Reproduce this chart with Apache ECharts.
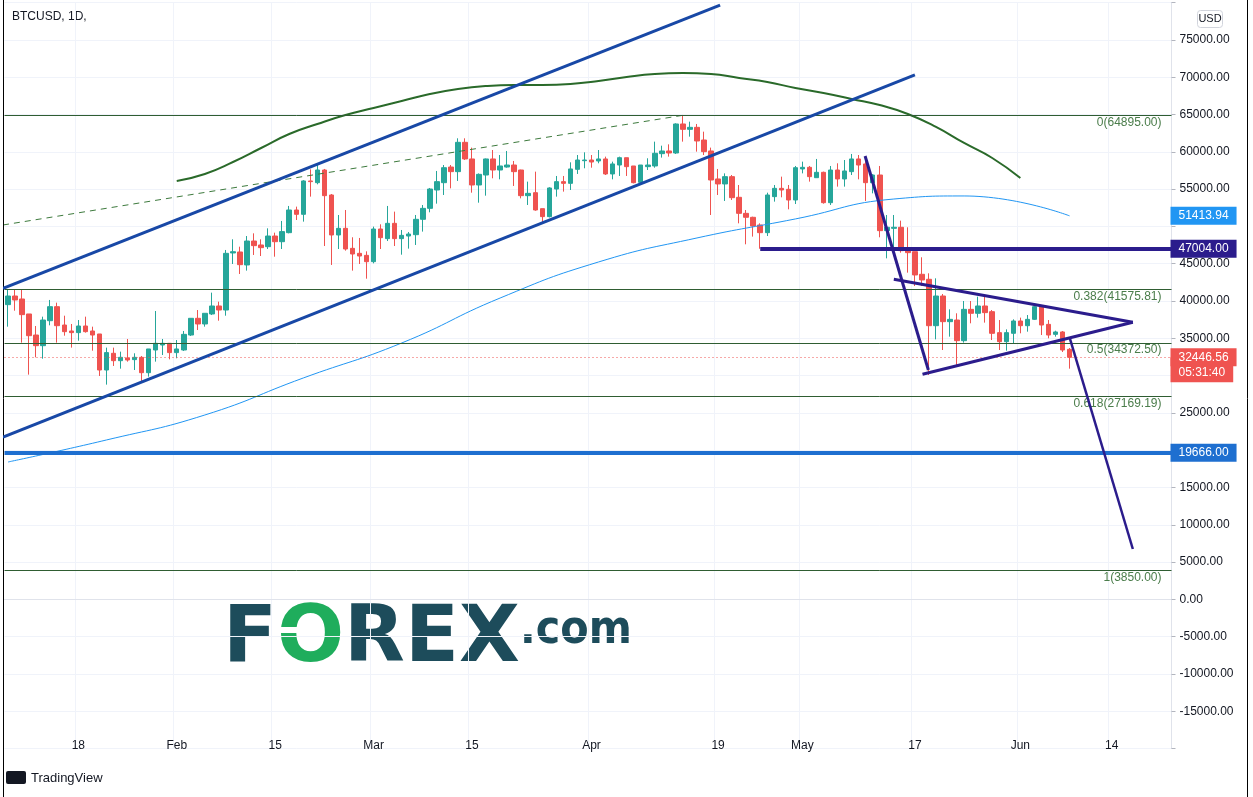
<!DOCTYPE html>
<html><head><meta charset="utf-8">
<script src="https://cdn.jsdelivr.net/npm/echarts@6/dist/echarts.min.js"></script>
<style>html,body{margin:0;padding:0;background:#fff;}#c{width:1253px;height:797px;}</style>
</head><body><div id="c"></div>
<script>
// ---------- data ----------
const startDate = '2021-01-08';
const endDate = '2021-06-22';
const open = [
 39510,40670,40270,38260,35440,34010,37360,39240,36780,35980,35760,36650,35980,35580,30750,32990,32000,32360,32140,32450,30390,33430,34100,34330,
 33080,33430,35440,37680,36920,38260,39330,38790,46440,46570,44830,48040,47510,47280,48710,47950,49160,52200,51620,56090,55860,57560,54210,48850,49740,47060,46390,46120,
 45270,49650,48360,50410,48360,48710,48890,50950,52420,54880,55860,57960,57340,61270,59040,55550,56890,59040,57560,57960,58230,57560,54120,54520,52380,51310,55010,56000,55770,57650,58810,
 58900,58770,59040,57030,58230,59210,58100,55910,58010,58100,59750,60110,59840,63730,63010,63280,61580,60110,56360,55690,56670,53900,51750,51220,50190,49160,53990,55100,54970,53540,
 57700,57920,56530,57250,53180,57560,56360,57340,59040,58370,55860,56890,49430,49740,49880,46840,46610,43580,42910,36690,40670,37230,37450,34680,38880,38350,39330,38570,35760,34550,35670,
 37320,36690,37540,39240,36870,35530,35850,33520];
const high = [
 41480,41480,41480,38260,36650,37900,40140,39780,38030,36920,37450,37900,36560,35580,33750,33750,33210,34910,32990,32630,33570,38660,34910,34330,
 34770,35980,37680,38790,38350,41120,39910,46840,48270,47280,48710,49070,48270,49740,49160,50730,52740,52650,56200,57650,58230,57700,54340,51530,52200,48540,48450,46660,
 49970,50280,52740,51980,49520,49250,51530,52870,55150,57430,58230,58230,61810,61810,60560,57100,59100,60240,59570,60110,58770,57600,56000,57340,52380,55250,56760,56760,58590,59570,59930,
 59570,60240,59350,58680,59350,59210,58100,58230,59130,61360,60820,61000,63820,64895,64040,63730,62700,60560,57700,57110,56890,55550,52200,51300,50410,54520,55550,56670,55550,58100,
 58680,58100,59040,57340,58100,58460,58900,59710,59570,59350,57000,58100,51530,51530,50770,49880,46610,45860,43710,43040,40940,38880,38350,40000,40000,40580,40580,38790,37450,36200,37540,
 37770,38120,39690,39470,37450,36020,35980,33700];
const low = [
 36560,38700,34420,30130,32450,32270,36740,34420,35350,33750,34680,35760,33340,29950,28790,31290,30930,31870,30750,29050,29860,31870,32760,32180,
 32320,33300,35310,36110,36560,38120,37360,38030,44960,43620,44070,46170,46030,46970,45940,46970,49070,50860,50640,53990,55640,47370,44830,46970,46750,44070,44960,42990,
 45050,46970,48040,47370,46210,47020,47510,49300,51890,53050,54210,55100,56090,58900,54520,53180,54120,56450,56310,57870,55420,53760,52870,52100,50500,51200,53990,54660,54880,57030,57790,
 57870,58460,56890,56310,56760,56760,55770,55770,57560,57870,59220,59350,59710,61360,62030,60020,59570,51530,54210,53410,53540,50410,47600,48630,47004,48710,53320,53900,52290,53000,
 57110,56000,56530,53050,52870,55330,55330,56890,56310,53410,54430,48540,45720,47060,46480,43800,42010,42010,30080,34860,33430,35220,31420,34420,37010,37770,37100,34770,33430,33340,34240,
 35670,35890,37450,35440,35000,35220,33160,30930];
const close = [
 40670,40140,38170,35350,34010,37450,39240,36690,35890,35760,36650,35890,35440,30750,33080,32000,32450,32090,32450,30390,33570,34330,34330,33080,
 33570,35530,37680,36920,38350,39330,38790,46390,46610,44870,48040,47420,47150,48710,47950,49300,52200,51620,56090,56000,57560,54120,48850,49740,46970,46300,46030,45270,
 49650,48490,50410,48360,48800,48980,50950,52420,55010,56000,57870,57340,61270,59040,55550,56980,59040,57560,58100,58230,57340,54120,54430,52200,51310,55150,56000,55770,57700,58900,58900,
 58630,59040,57030,58370,59210,58010,55860,58230,58230,59800,60110,59840,63730,63010,63280,61450,60020,56220,55690,56670,53850,51750,51220,50050,49160,54210,55100,54880,53540,57870,
 57920,56670,57250,53180,57560,56360,57430,59040,58230,55860,56890,49430,49880,49880,46750,46480,43490,42820,36690,40670,37230,37540,34680,38880,38350,39330,38440,35670,34550,35760,37320,
 36690,37540,39240,36780,35440,35850,33430,32446.56];

const xTickDates = ['2021-01-18','2021-02-01','2021-02-15','2021-03-01','2021-03-15','2021-04-01','2021-04-19','2021-05-01','2021-05-17','2021-06-01','2021-06-14'];
const xTickLabels = ['18','Feb','15','Mar','15','Apr','19','May','17','Jun','14'];
const yHiddenTicks = [80000, 50000, 30000, 20000, -20000];

// slow moving average (dark green)
const greenMaDates = ['2021-02-01','2021-02-05','2021-02-09','2021-02-13','2021-02-17','2021-02-21','2021-02-25','2021-03-01','2021-03-05','2021-03-09','2021-03-13','2021-03-17','2021-03-21','2021-03-25','2021-03-29','2021-04-02','2021-04-06','2021-04-10','2021-04-14','2021-04-18','2021-04-22','2021-04-26','2021-04-30','2021-05-04','2021-05-08','2021-05-12','2021-05-16','2021-05-20','2021-05-24','2021-05-28','2021-06-01'];
const greenMaValues = [56090,57030,58630,60510,62390,63730,64930,65870,66810,67750,68420,68820,68960,68960,69090,69490,70030,70430,70560,70430,69890,69360,68550,67880,67080,66270,65070,63330,61180,59170,56490];
// moving average (light blue)
const blueMaDates = ['2021-01-08','2021-01-22','2021-02-05','2021-02-19','2021-03-05','2021-03-19','2021-04-02','2021-04-16','2021-04-30','2021-05-14','2021-05-24','2021-06-08'];
const blueMaValues = [18420,21370,24720,29680,34370,40400,45230,48450,51000,53670,54080,51413.94];

// drawings
const upperChannel = [['2021-01-07 07:00',41680],['2021-04-19 07:00',79650]];
const lowerChannel = [['2021-01-07 07:00',21740],['2021-05-17 00:00',70300]];
const dashedTrend  = [['2021-01-07 07:00',50190],['2021-04-14 00:00',64895]];
const dropLine1    = [['2021-05-09 22:00',59440],['2021-05-18 22:00',30750]];
const triUpper     = [['2021-05-14 00:00',42910],['2021-06-17 00:00',37145]];
const triLower     = [['2021-05-18 02:00',30175],['2021-06-17 00:00',37145]];
const dropLine2    = [['2021-06-08 00:00',35135],['2021-06-17 00:00',6756]];
const resistStart  = '2021-04-25';
const resistLevel  = 47004;
const supportLevel = 19666;
const fibHigh = 64895, fibLow = 3850;
const fibRatios = [0, 0.382, 0.5, 0.618, 1];
const lastPrice = 32446.56;
const lastTimer = '05:31:40';
const blueMaLast = 51413.94;

// ---------- helpers ----------
const DAY = 86400000;
function ts(s){const p=s.split(' ');const d=p[0].split('-').map(Number);let h=0,mi=0;if(p[1]){const t=p[1].split(':').map(Number);h=t[0];mi=t[1];}return Date.UTC(d[0],d[1]-1,d[2],h,mi);}
const dates=[];for(let t=ts(startDate);t<=ts(endDate);t+=DAY){dates.push(new Date(t).toISOString().slice(0,10));}
const tMin = ts(startDate)-DAY/2, tMax = ts(endDate)+DAY/2;
const candleData = dates.map((d,i)=> i<open.length ? [open[i],close[i],low[i],high[i]] : '-');
const isTick = (idx,val)=> xTickDates.indexOf(val)>=0;

const NAVY='#2b1c8c', CH='#1848a6';
const CLEAR='rgba(0,0,0,0)';
function seg(pts,color,width,type,z){return {type:'line',xAxisIndex:1,yAxisIndex:0,data:pts.map(p=>[ts(p[0]),p[1]]),symbol:'none',silent:true,animation:false,z:z||5,lineStyle:{color:color,width:width,type:type||'solid'}};}

const fibLines = fibRatios.map(r=>{const v=+(fibHigh-(fibHigh-fibLow)*r).toFixed(2);return {yAxis:v,lineStyle:{color:'#2f5d32',width:1,type:'solid'},label:{show:true,position:'insideEndBottom',distance:[10,1],formatter:r+'('+v.toFixed(2)+')',color:'#4b7d4b',fontSize:12,fontFamily:'Liberation Sans'}};});
const boxLabel=(txt,bg,extra)=>Object.assign({show:true,position:'end',distance:-1,formatter:txt,color:'#fff',backgroundColor:bg,padding:[2,8,2,8],fontSize:12,lineHeight:14,fontFamily:'Liberation Sans'},extra||{});

const option = {
 animation:false,
 backgroundColor:'#ffffff',
 grid:{left:4.5,right:81.5,top:2.6,bottom:48.4,containLabel:false},
 xAxis:[
  {type:'category',data:dates,boundaryGap:true,offset:-10.6,
   axisLine:{show:true,lineStyle:{color:'#e0e3eb'}},axisTick:{show:false},
   axisLabel:{interval:isTick,margin:2,color:'#131722',fontSize:12,fontFamily:'Liberation Sans',formatter:v=>{const k=xTickDates.indexOf(v);return k>=0?xTickLabels[k]:'';}},
   splitLine:{show:true,interval:isTick,lineStyle:{color:'#f0f3fa',width:1}}},
  {type:'value',min:tMin,max:tMax,show:false}
 ],
 yAxis:[{type:'value',position:'right',min:-20000,max:80000,interval:5000,
   axisLine:{show:true,lineStyle:{color:'#e0e3eb'}},axisTick:{show:true,length:4,lineStyle:{color:'#b2b5be'}},
   axisLabel:{margin:8,color:'#131722',fontSize:12,fontFamily:'Liberation Sans',formatter:v=>yHiddenTicks.indexOf(v)>=0?'':v.toFixed(2)},
   splitLine:{show:true,lineStyle:{color:'#f0f3fa'}}}],
 series:[
  {type:'line',xAxisIndex:1,yAxisIndex:0,data:[],silent:true,z:1,
   markLine:{symbol:['none','none'],silent:true,animation:false,data:fibLines}},
  {type:'candlestick',xAxisIndex:0,yAxisIndex:0,data:candleData,barWidth:5,z:3,
   itemStyle:{color:'#26a69a',color0:'#ef5350',borderColor:'#26a69a',borderColor0:'#ef5350',borderWidth:1}},
  {type:'line',xAxisIndex:1,yAxisIndex:0,data:greenMaDates.map((d,i)=>[ts(d),greenMaValues[i]]),smooth:true,symbol:'none',silent:true,z:4,lineStyle:{color:'#2a6a2a',width:2}},
  {type:'line',xAxisIndex:1,yAxisIndex:0,data:blueMaDates.map((d,i)=>[ts(d),blueMaValues[i]]),smooth:true,symbol:'none',silent:true,z:4,lineStyle:{color:'#2196f3',width:1}},
  seg(dashedTrend,'#3d7a3d',1,[6,5],4),
  seg(upperChannel,CH,3,'solid',6),
  seg(lowerChannel,CH,3,'solid',6),
  seg(dropLine1,NAVY,3,'solid',6),
  seg(triUpper,NAVY,3,'solid',6),
  seg(triLower,NAVY,3,'solid',6),
  seg(dropLine2,NAVY,2.5,'solid',6),
  {type:'line',xAxisIndex:1,yAxisIndex:0,data:[],silent:true,z:7,
   markLine:{symbol:['none','none'],silent:true,animation:false,data:[
    [{coord:[ts(resistStart),resistLevel],lineStyle:{color:NAVY,width:4,type:'solid'},label:boxLabel(resistLevel.toFixed(2),NAVY)},{coord:[tMax,resistLevel]}],
    {yAxis:supportLevel,lineStyle:{color:'#1e6fd0',width:4,type:'solid'},label:boxLabel(supportLevel.toFixed(2),'#1e6fd0')},
    {yAxis:blueMaLast,lineStyle:{color:CLEAR,width:0},label:boxLabel(blueMaLast.toFixed(2),'#2196f3')},
    {yAxis:lastPrice,lineStyle:{color:'#ef5350',width:1,type:[1,3]},label:boxLabel(lastTimer,'#ef5350',{verticalAlign:'top',padding:[8,8,3,8]})},
    {yAxis:lastPrice+0.001,lineStyle:{color:CLEAR,width:0},label:boxLabel(lastPrice.toFixed(2),'#ef5350')}
   ]}}
 ],
 graphic:[
  {type:'text',left:12,top:11,style:{text:'BTCUSD, 1D,',fill:'#131722',font:'12px "Liberation Sans"'}},
  {type:'rect',shape:{x:1197.5,y:10.5,width:25,height:17,r:3},style:{fill:'#fff',stroke:'#d1d4dc',lineWidth:1}},
  {type:'text',x:1210,y:19,style:{text:'USD',fill:'#131722',font:'11px "Liberation Sans"',align:'center',verticalAlign:'middle'}},
  {type:'text',x:223,y:640,style:{rich:{f:{fill:'#1d4c5b',font:'bold 79px "DejaVu Sans"'},o:{fill:'#1fad5c',font:'bold 79px "DejaVu Sans"'}},text:'{f|F}{o|O}{f|REX}',verticalAlign:'middle'}},
  {type:'rect',shape:{x:280,y:627,width:36,height:6},style:{fill:'#ffffff'}},
  {type:'text',x:520,y:631,style:{text:'.com',fill:'#1d4c5b',font:'bold 46px "Liberation Sans Narrow", "DejaVu Sans Condensed", "DejaVu Sans"',verticalAlign:'middle'}},
  {type:'line',shape:{x1:3.5,y1:0,x2:3.5,y2:797},style:{stroke:'#000',lineWidth:1}},
  {type:'line',shape:{x1:1247.5,y1:0,x2:1247.5,y2:797},style:{stroke:'#000',lineWidth:1}},
  {type:'rect',shape:{x:6,y:771,width:20,height:13,r:2},style:{fill:'#131722'}},
  {type:'text',x:31,y:778,style:{text:'TradingView',fill:'#131722',font:'13px "Liberation Sans"',verticalAlign:'middle'}}
 ]
};
const chart = echarts.init(document.getElementById('c'),null,{renderer:'canvas'});
chart.setOption(option);
</script></body></html>
